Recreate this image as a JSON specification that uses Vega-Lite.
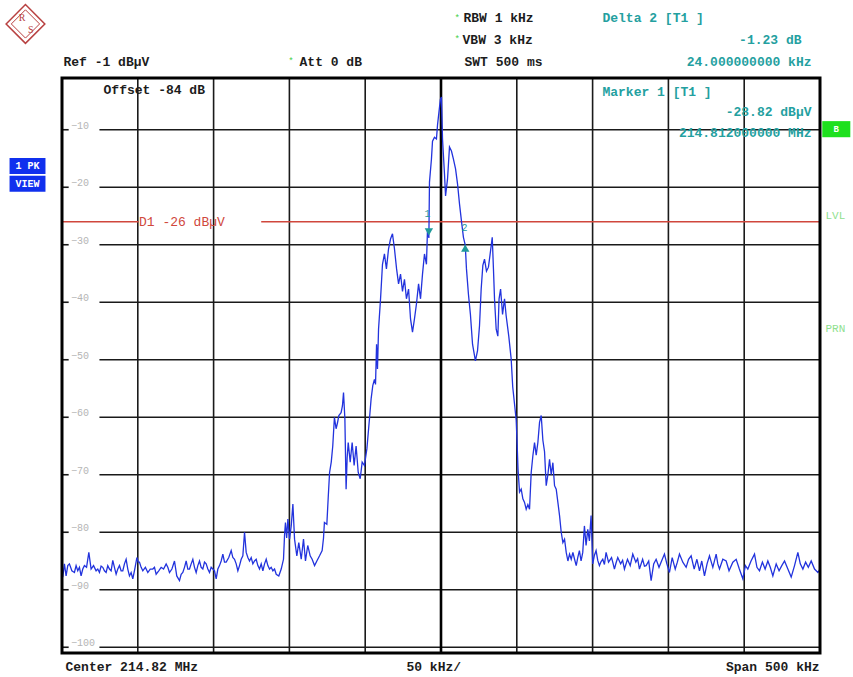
{
  "$schema": "https://vega.github.io/schema/vega-lite/v6.json",
  "width": 758,
  "height": 575,
  "autosize": {"type": "none"},
  "padding": {"left": 62, "top": 78, "right": 33, "bottom": 24},
  "background": "white",
  "config": {"view": {"stroke": null}, "text": {"font": "Liberation Mono"}},
  "layer": [
    {
      "data": {"values": [{"db": -10}, {"db": -20}, {"db": -30}, {"db": -40}, {"db": -50}, {"db": -60}, {"db": -70}, {"db": -80}, {"db": -90}, {"db": -100}]},
      "mark": {"type": "rule", "color": "#1a1a1a", "strokeWidth": 1.6},
      "encoding": {
        "x": {"datum": -225.3, "type": "quantitative", "scale": {"domain": [-250, 250], "nice": false, "zero": false}, "axis": null},
        "x2": {"datum": 250},
        "y": {"field": "db", "type": "quantitative", "scale": {"domain": [-101, -1], "nice": false, "zero": false}, "axis": null}
      }
    },
    {
      "data": {"values": [{"db": -10}, {"db": -20}, {"db": -30}, {"db": -40}, {"db": -50}, {"db": -60}, {"db": -70}, {"db": -80}, {"db": -90}, {"db": -100}]},
      "mark": {"type": "rule", "color": "#1a1a1a", "strokeWidth": 1.6},
      "encoding": {
        "x": {"datum": -250, "type": "quantitative"},
        "x2": {"datum": -245.6},
        "y": {"field": "db", "type": "quantitative"}
      }
    },
    {
      "data": {"values": [{"db": -10}, {"db": -20}, {"db": -30}, {"db": -40}, {"db": -50}, {"db": -60}, {"db": -70}, {"db": -80}, {"db": -90}, {"db": -100}]},
      "mark": {"type": "text", "color": "#b5b5b5", "fontSize": 10, "align": "left", "baseline": "bottom", "dy": 1},
      "encoding": {
        "x": {"datum": -244, "type": "quantitative"},
        "y": {"field": "db", "type": "quantitative"},
        "text": {"field": "db", "type": "quantitative", "format": "d"}
      }
    },
    {
      "data": {"values": [{"f": -200}, {"f": -150}, {"f": -100}, {"f": -50}, {"f": 50}, {"f": 100}, {"f": 150}, {"f": 200}]},
      "mark": {"type": "rule", "color": "#1a1a1a", "strokeWidth": 1.6},
      "encoding": {
        "x": {"field": "f", "type": "quantitative"},
        "y": {"datum": -101, "type": "quantitative"},
        "y2": {"datum": -1}
      }
    },
    {
      "data": {"values": [{"f": 0}]},
      "mark": {"type": "rule", "color": "#000000", "strokeWidth": 2.6},
      "encoding": {
        "x": {"field": "f", "type": "quantitative"},
        "y": {"datum": -101, "type": "quantitative"},
        "y2": {"datum": -1}
      }
    },
    {
      "data": {"values": [{"f1": -250, "f2": -199.4}, {"f1": -118.6, "f2": 250}]},
      "mark": {"type": "rule", "color": "#d0473c", "strokeWidth": 1.4},
      "encoding": {
        "x": {"field": "f1", "type": "quantitative"},
        "x2": {"field": "f2"},
        "y": {"datum": -26, "type": "quantitative"}
      }
    },
    {
      "data": {"values": [{"t": "D1 -26 dBµV", "f": -199.2, "db": -26}]},
      "mark": {"type": "text", "color": "#d0473c", "fontSize": 13, "align": "left", "baseline": "middle"},
      "encoding": {
        "x": {"field": "f", "type": "quantitative"},
        "y": {"field": "db", "type": "quantitative"},
        "text": {"field": "t"}
      }
    },
    {
      "data": {"values": [
        {"f": -250.0, "db": -86.4}, {"f": -249.5, "db": -87.8}, {"f": -248.4, "db": -85.5}, {"f": -247.3, "db": -87.6}, {"f": -246.2, "db": -85.8},
        {"f": -245.1, "db": -85.5}, {"f": -243.5, "db": -86.7}, {"f": -241.8, "db": -87.0}, {"f": -240.7, "db": -85.8}, {"f": -239.6, "db": -86.7},
        {"f": -238.5, "db": -86.1}, {"f": -237.4, "db": -87.6}, {"f": -236.3, "db": -86.4}, {"f": -235.2, "db": -85.8}, {"f": -233.8, "db": -86.1},
        {"f": -232.3, "db": -83.5}, {"f": -230.8, "db": -86.4}, {"f": -229.2, "db": -85.8}, {"f": -227.5, "db": -86.7}, {"f": -226.4, "db": -86.4},
        {"f": -225.3, "db": -87.0}, {"f": -224.2, "db": -85.9}, {"f": -223.1, "db": -86.1}, {"f": -222.0, "db": -86.7}, {"f": -220.9, "db": -87.0},
        {"f": -219.8, "db": -85.8}, {"f": -218.7, "db": -86.4}, {"f": -217.6, "db": -86.7}, {"f": -216.5, "db": -84.9}, {"f": -215.4, "db": -86.1},
        {"f": -214.3, "db": -87.3}, {"f": -213.2, "db": -86.4}, {"f": -212.1, "db": -85.8}, {"f": -211.0, "db": -86.7}, {"f": -209.9, "db": -86.7},
        {"f": -208.8, "db": -85.5}, {"f": -207.7, "db": -84.7}, {"f": -206.6, "db": -86.4}, {"f": -205.5, "db": -87.6}, {"f": -204.4, "db": -87.0},
        {"f": -203.3, "db": -88.1}, {"f": -202.0, "db": -86.4}, {"f": -200.6, "db": -84.4}, {"f": -199.7, "db": -85.2}, {"f": -198.9, "db": -85.2},
        {"f": -197.8, "db": -86.1}, {"f": -196.7, "db": -86.7}, {"f": -195.0, "db": -86.1}, {"f": -193.4, "db": -87.0}, {"f": -191.8, "db": -86.4},
        {"f": -190.1, "db": -86.4}, {"f": -189.0, "db": -86.1}, {"f": -187.9, "db": -87.3}, {"f": -186.2, "db": -86.7}, {"f": -184.6, "db": -86.1},
        {"f": -183.0, "db": -86.4}, {"f": -181.3, "db": -85.5}, {"f": -180.2, "db": -86.1}, {"f": -179.1, "db": -87.0}, {"f": -177.5, "db": -86.4},
        {"f": -175.8, "db": -85.0}, {"f": -174.3, "db": -87.6}, {"f": -172.5, "db": -88.4}, {"f": -171.4, "db": -87.3}, {"f": -170.3, "db": -87.0},
        {"f": -169.2, "db": -86.1}, {"f": -168.1, "db": -85.0}, {"f": -167.0, "db": -86.4}, {"f": -165.9, "db": -86.4}, {"f": -164.8, "db": -85.5},
        {"f": -163.7, "db": -84.7}, {"f": -162.6, "db": -86.1}, {"f": -161.5, "db": -87.0}, {"f": -160.4, "db": -85.8}, {"f": -159.3, "db": -85.0},
        {"f": -158.2, "db": -86.1}, {"f": -157.1, "db": -86.4}, {"f": -156.0, "db": -85.2}, {"f": -154.9, "db": -85.5}, {"f": -153.8, "db": -86.4},
        {"f": -152.7, "db": -87.0}, {"f": -151.6, "db": -86.1}, {"f": -150.5, "db": -86.4}, {"f": -149.4, "db": -86.7}, {"f": -148.3, "db": -88.1},
        {"f": -147.2, "db": -86.4}, {"f": -146.1, "db": -85.8}, {"f": -145.0, "db": -85.0}, {"f": -143.9, "db": -83.8}, {"f": -142.8, "db": -85.2},
        {"f": -141.7, "db": -85.2}, {"f": -140.0, "db": -84.4}, {"f": -138.4, "db": -83.2}, {"f": -137.3, "db": -84.4}, {"f": -136.2, "db": -84.7},
        {"f": -135.1, "db": -85.5}, {"f": -134.0, "db": -86.7}, {"f": -132.9, "db": -85.8}, {"f": -131.8, "db": -84.7}, {"f": -130.7, "db": -84.1},
        {"f": -129.6, "db": -80.0}, {"f": -128.5, "db": -83.5}, {"f": -127.4, "db": -84.4}, {"f": -126.3, "db": -85.0}, {"f": -125.2, "db": -84.4},
        {"f": -124.1, "db": -85.5}, {"f": -123.0, "db": -85.0}, {"f": -121.9, "db": -84.7}, {"f": -120.8, "db": -85.8}, {"f": -119.7, "db": -86.4},
        {"f": -118.6, "db": -85.5}, {"f": -117.5, "db": -86.7}, {"f": -116.4, "db": -85.5}, {"f": -115.3, "db": -84.7}, {"f": -114.2, "db": -85.8},
        {"f": -113.1, "db": -86.4}, {"f": -112.0, "db": -86.1}, {"f": -110.9, "db": -86.7}, {"f": -109.8, "db": -86.4}, {"f": -108.7, "db": -87.3},
        {"f": -107.0, "db": -87.6}, {"f": -105.4, "db": -86.4}, {"f": -103.9, "db": -84.7}, {"f": -103.2, "db": -80.5}, {"f": -102.6, "db": -78.3},
        {"f": -101.8, "db": -81.0}, {"f": -101.0, "db": -77.7}, {"f": -99.9, "db": -81.2}, {"f": -98.8, "db": -78.9}, {"f": -97.7, "db": -75.1},
        {"f": -96.6, "db": -81.2}, {"f": -95.1, "db": -84.1}, {"f": -93.8, "db": -81.8}, {"f": -92.2, "db": -84.7}, {"f": -90.7, "db": -81.2},
        {"f": -89.4, "db": -85.0}, {"f": -87.9, "db": -82.3}, {"f": -86.3, "db": -84.1}, {"f": -85.0, "db": -84.7}, {"f": -83.4, "db": -85.8},
        {"f": -81.9, "db": -85.0}, {"f": -80.1, "db": -84.1}, {"f": -78.4, "db": -83.2}, {"f": -77.5, "db": -81.0}, {"f": -76.9, "db": -78.3},
        {"f": -75.3, "db": -78.6}, {"f": -74.4, "db": -74.0}, {"f": -73.5, "db": -69.6}, {"f": -72.4, "db": -67.8}, {"f": -71.4, "db": -65.0},
        {"f": -70.3, "db": -60.0}, {"f": -69.2, "db": -62.0}, {"f": -68.3, "db": -61.0}, {"f": -67.4, "db": -59.7}, {"f": -65.9, "db": -59.2},
        {"f": -65.0, "db": -58.0}, {"f": -64.3, "db": -55.7}, {"f": -63.4, "db": -60.3}, {"f": -62.6, "db": -72.5}, {"f": -61.9, "db": -67.0},
        {"f": -61.2, "db": -64.4}, {"f": -59.9, "db": -67.8}, {"f": -58.6, "db": -64.4}, {"f": -57.3, "db": -68.4}, {"f": -56.0, "db": -65.0},
        {"f": -54.6, "db": -69.6}, {"f": -53.3, "db": -70.7}, {"f": -52.0, "db": -67.8}, {"f": -50.5, "db": -68.4}, {"f": -48.9, "db": -65.5},
        {"f": -47.2, "db": -60.3}, {"f": -46.1, "db": -56.8}, {"f": -45.0, "db": -54.5}, {"f": -43.9, "db": -53.4}, {"f": -43.2, "db": -54.3},
        {"f": -42.5, "db": -47.3}, {"f": -41.9, "db": -51.6}, {"f": -41.2, "db": -44.7}, {"f": -39.9, "db": -39.5}, {"f": -38.6, "db": -33.4},
        {"f": -37.3, "db": -31.6}, {"f": -36.0, "db": -34.2}, {"f": -34.6, "db": -30.7}, {"f": -33.3, "db": -29.0}, {"f": -32.0, "db": -28.1},
        {"f": -30.7, "db": -30.7}, {"f": -29.3, "db": -34.2}, {"f": -28.0, "db": -36.8}, {"f": -26.7, "db": -35.1}, {"f": -25.4, "db": -38.1},
        {"f": -24.1, "db": -36.0}, {"f": -22.8, "db": -39.4}, {"f": -21.4, "db": -37.7}, {"f": -20.1, "db": -42.9}, {"f": -18.8, "db": -45.2},
        {"f": -17.5, "db": -42.9}, {"f": -16.2, "db": -40.3}, {"f": -14.8, "db": -36.8}, {"f": -13.5, "db": -39.4}, {"f": -12.2, "db": -35.1},
        {"f": -10.9, "db": -31.6}, {"f": -9.6, "db": -33.4}, {"f": -8.9, "db": -27.3}, {"f": -8.0, "db": -28.82}, {"f": -7.6, "db": -19.1},
        {"f": -6.3, "db": -15.1}, {"f": -5.6, "db": -12.0}, {"f": -4.3, "db": -11.3}, {"f": -3.0, "db": -11.6}, {"f": -2.3, "db": -9.2},
        {"f": -1.0, "db": -6.1}, {"f": -0.4, "db": -4.7}, {"f": 0.3, "db": -4.3}, {"f": 1.0, "db": -11.6}, {"f": 2.3, "db": -17.7},
        {"f": 3.0, "db": -21.5}, {"f": 4.3, "db": -18.6}, {"f": 5.6, "db": -13.0}, {"f": 6.9, "db": -13.7}, {"f": 8.2, "db": -15.1},
        {"f": 9.6, "db": -16.8}, {"f": 10.9, "db": -19.4}, {"f": 12.2, "db": -22.9}, {"f": 13.5, "db": -25.9}, {"f": 14.8, "db": -28.7},
        {"f": 16.0, "db": -30.05}, {"f": 16.8, "db": -34.2}, {"f": 18.1, "db": -38.6}, {"f": 19.4, "db": -42.1}, {"f": 20.8, "db": -47.3},
        {"f": 22.7, "db": -50.2}, {"f": 24.1, "db": -48.4}, {"f": 25.4, "db": -44.1}, {"f": 26.5, "db": -37.7}, {"f": 27.6, "db": -33.6},
        {"f": 28.7, "db": -32.5}, {"f": 30.0, "db": -34.6}, {"f": 31.3, "db": -33.9}, {"f": 33.1, "db": -30.2}, {"f": 33.8, "db": -28.7},
        {"f": 34.6, "db": -34.2}, {"f": 35.3, "db": -39.4}, {"f": 36.4, "db": -44.7}, {"f": 37.5, "db": -45.9}, {"f": 38.3, "db": -39.4},
        {"f": 39.3, "db": -37.7}, {"f": 40.6, "db": -42.1}, {"f": 41.9, "db": -39.4}, {"f": 43.0, "db": -42.4}, {"f": 44.7, "db": -45.9},
        {"f": 46.3, "db": -49.9}, {"f": 47.3, "db": -54.7}, {"f": 48.5, "db": -57.7}, {"f": 49.6, "db": -60.5}, {"f": 50.2, "db": -64.5},
        {"f": 50.8, "db": -69.0}, {"f": 51.8, "db": -73.0}, {"f": 52.9, "db": -72.5}, {"f": 54.0, "db": -74.2}, {"f": 55.1, "db": -74.8},
        {"f": 56.2, "db": -76.0}, {"f": 57.3, "db": -75.2}, {"f": 58.4, "db": -76.0}, {"f": 59.5, "db": -69.6}, {"f": 60.6, "db": -66.7},
        {"f": 61.7, "db": -64.4}, {"f": 62.8, "db": -66.6}, {"f": 63.9, "db": -64.4}, {"f": 65.0, "db": -60.9}, {"f": 66.1, "db": -59.7},
        {"f": 67.2, "db": -64.0}, {"f": 68.3, "db": -66.0}, {"f": 69.4, "db": -71.9}, {"f": 70.5, "db": -70.0}, {"f": 71.6, "db": -67.3},
        {"f": 72.7, "db": -70.0}, {"f": 73.8, "db": -67.9}, {"f": 74.9, "db": -71.9}, {"f": 76.0, "db": -72.5}, {"f": 77.1, "db": -74.8},
        {"f": 78.2, "db": -77.1}, {"f": 79.3, "db": -80.0}, {"f": 80.4, "db": -81.8}, {"f": 81.5, "db": -81.2}, {"f": 82.6, "db": -83.5},
        {"f": 83.7, "db": -85.0}, {"f": 84.8, "db": -83.8}, {"f": 85.9, "db": -84.7}, {"f": 87.0, "db": -83.5}, {"f": 88.1, "db": -84.7},
        {"f": 89.2, "db": -85.8}, {"f": 90.2, "db": -84.4}, {"f": 91.3, "db": -83.2}, {"f": 92.4, "db": -85.0}, {"f": 93.5, "db": -83.5},
        {"f": 94.6, "db": -78.9}, {"f": 95.7, "db": -82.3}, {"f": 96.8, "db": -79.5}, {"f": 97.9, "db": -81.5}, {"f": 99.0, "db": -77.1},
        {"f": 100.1, "db": -85.5}, {"f": 101.2, "db": -84.0}, {"f": 102.3, "db": -83.2}, {"f": 103.4, "db": -84.9}, {"f": 104.5, "db": -85.8},
        {"f": 105.6, "db": -85.1}, {"f": 106.7, "db": -84.7}, {"f": 107.8, "db": -85.6}, {"f": 108.9, "db": -83.5}, {"f": 110.5, "db": -85.2},
        {"f": 112.5, "db": -84.4}, {"f": 113.5, "db": -85.4}, {"f": 114.4, "db": -86.4}, {"f": 115.5, "db": -85.3}, {"f": 116.6, "db": -84.4},
        {"f": 118.5, "db": -85.5}, {"f": 119.8, "db": -84.9}, {"f": 121.0, "db": -86.4}, {"f": 123.0, "db": -84.7}, {"f": 124.8, "db": -85.8},
        {"f": 126.5, "db": -83.8}, {"f": 128.5, "db": -85.2}, {"f": 129.7, "db": -84.6}, {"f": 130.9, "db": -86.4}, {"f": 133.0, "db": -84.7},
        {"f": 134.2, "db": -85.9}, {"f": 135.3, "db": -85.8}, {"f": 137.0, "db": -85.0}, {"f": 138.6, "db": -88.4}, {"f": 140.3, "db": -85.5},
        {"f": 141.9, "db": -84.7}, {"f": 143.8, "db": -86.1}, {"f": 145.5, "db": -85.0}, {"f": 147.4, "db": -83.8}, {"f": 149.0, "db": -85.5},
        {"f": 150.7, "db": -87.0}, {"f": 152.5, "db": -84.4}, {"f": 154.5, "db": -86.4}, {"f": 155.9, "db": -85.2}, {"f": 157.3, "db": -83.8},
        {"f": 159.5, "db": -85.2}, {"f": 161.7, "db": -86.1}, {"f": 163.3, "db": -84.7}, {"f": 165.0, "db": -84.1}, {"f": 167.0, "db": -86.4},
        {"f": 168.8, "db": -84.7}, {"f": 170.5, "db": -86.7}, {"f": 172.0, "db": -85.0}, {"f": 173.8, "db": -87.6}, {"f": 175.5, "db": -85.5},
        {"f": 177.1, "db": -84.1}, {"f": 179.3, "db": -86.1}, {"f": 181.5, "db": -83.8}, {"f": 182.6, "db": -85.5}, {"f": 183.7, "db": -86.4},
        {"f": 185.9, "db": -84.7}, {"f": 188.1, "db": -85.0}, {"f": 190.0, "db": -86.7}, {"f": 192.5, "db": -85.2}, {"f": 194.7, "db": -84.7},
        {"f": 196.8, "db": -86.4}, {"f": 199.1, "db": -88.1}, {"f": 200.8, "db": -85.8}, {"f": 202.4, "db": -86.4}, {"f": 204.5, "db": -85.0},
        {"f": 206.8, "db": -83.8}, {"f": 208.4, "db": -86.1}, {"f": 210.1, "db": -86.7}, {"f": 212.0, "db": -85.2}, {"f": 213.8, "db": -86.4},
        {"f": 215.6, "db": -85.0}, {"f": 217.2, "db": -86.1}, {"f": 218.9, "db": -87.6}, {"f": 221.1, "db": -85.5}, {"f": 223.0, "db": -86.7},
        {"f": 224.8, "db": -85.8}, {"f": 226.6, "db": -85.0}, {"f": 228.8, "db": -86.4}, {"f": 231.0, "db": -87.8}, {"f": 233.2, "db": -85.8},
        {"f": 235.4, "db": -83.5}, {"f": 237.0, "db": -85.5}, {"f": 238.7, "db": -86.4}, {"f": 240.5, "db": -85.2}, {"f": 242.3, "db": -86.1},
        {"f": 244.2, "db": -85.0}, {"f": 246.4, "db": -86.4}, {"f": 248.6, "db": -87.0}, {"f": 250.0, "db": -86.4}
      ]},
      "mark": {"type": "line", "color": "#2233dd", "strokeWidth": 1.3, "interpolate": "linear"},
      "encoding": {
        "x": {"field": "f", "type": "quantitative"},
        "y": {"field": "db", "type": "quantitative"}
      }
    },
    {
      "data": {"values": [{"f": -8, "db": -28.82}]},
      "mark": {"type": "point", "shape": "triangle-down", "filled": true, "color": "#1f9a9a", "size": 70, "yOffset": -6, "opacity": 1},
      "encoding": {"x": {"field": "f", "type": "quantitative"}, "y": {"field": "db", "type": "quantitative"}}
    },
    {
      "data": {"values": [{"f": 16, "db": -30.05}]},
      "mark": {"type": "point", "shape": "triangle-up", "filled": true, "color": "#1f9a9a", "size": 70, "yOffset": 3, "opacity": 1},
      "encoding": {"x": {"field": "f", "type": "quantitative"}, "y": {"field": "db", "type": "quantitative"}}
    },
    {
      "data": {"values": [{"t": "1", "f": -8.9, "db": -24.7}, {"t": "2", "f": 15.5, "db": -27.0}]},
      "mark": {"type": "text", "color": "#1f9a9a", "fontSize": 10, "align": "center", "baseline": "middle"},
      "encoding": {"x": {"field": "f", "type": "quantitative"}, "y": {"field": "db", "type": "quantitative"}, "text": {"field": "t"}}
    },
    {
      "data": {"values": [{"a": 1}]},
      "mark": {"type": "rect", "fill": null, "fillOpacity": 0, "stroke": "#000000", "strokeWidth": 3},
      "encoding": {
        "x": {"datum": -250, "type": "quantitative"},
        "x2": {"datum": 250},
        "y": {"datum": -101, "type": "quantitative"},
        "y2": {"datum": -1}
      }
    },
    {
      "data": {"values": [
        {"t": "Ref -1 dBµV", "f": -249.0, "db": 1.8},
        {"t": "Att  0 dB", "f": -93.3, "db": 1.8},
        {"t": "RBW 1 kHz", "f": 14.8, "db": 9.4},
        {"t": "VBW 3 kHz", "f": 14.2, "db": 5.6},
        {"t": "SWT 500 ms", "f": 15.5, "db": 1.8},
        {"t": "Offset -84 dB", "f": -222.6, "db": -3.1},
        {"t": "Center 214.82 MHz", "f": -247.7, "db": -103.4},
        {"t": "50 kHz/", "f": -22.8, "db": -103.4}
      ]},
      "mark": {"type": "text", "color": "#1c1c1c", "fontSize": 13, "fontWeight": "bold", "align": "left", "baseline": "middle"},
      "encoding": {"x": {"field": "f", "type": "quantitative"}, "y": {"field": "db", "type": "quantitative"}, "text": {"field": "t"}}
    },
    {
      "data": {"values": [{"t": "Span 500 kHz", "f": 249.7, "db": -103.4}]},
      "mark": {"type": "text", "color": "#1c1c1c", "fontSize": 13, "fontWeight": "bold", "align": "right", "baseline": "middle"},
      "encoding": {"x": {"field": "f", "type": "quantitative"}, "y": {"field": "db", "type": "quantitative"}, "text": {"field": "t"}}
    },
    {
      "data": {"values": [{"t": "*", "f": -100.8, "db": 1.9}, {"t": "*", "f": 8.9, "db": 9.5}, {"t": "*", "f": 8.9, "db": 5.7}]},
      "mark": {"type": "text", "color": "#3fcf3f", "fontSize": 9, "align": "left", "baseline": "middle"},
      "encoding": {"x": {"field": "f", "type": "quantitative"}, "y": {"field": "db", "type": "quantitative"}, "text": {"field": "t"}}
    },
    {
      "data": {"values": [{"t": "Delta 2 [T1 ]", "f": 106.5, "db": 9.4}, {"t": "Marker 1 [T1 ]", "f": 106.5, "db": -3.4}]},
      "mark": {"type": "text", "color": "#24a0a0", "fontSize": 13, "fontWeight": "bold", "align": "left", "baseline": "middle"},
      "encoding": {"x": {"field": "f", "type": "quantitative"}, "y": {"field": "db", "type": "quantitative"}, "text": {"field": "t"}}
    },
    {
      "data": {"values": [
        {"t": "-1.23 dB", "f": 237.8, "db": 5.6},
        {"t": "24.000000000 kHz", "f": 244.4, "db": 1.8},
        {"t": "-28.82 dBµV", "f": 244.4, "db": -6.9},
        {"t": "214.812000000 MHz", "f": 244.4, "db": -10.6}
      ]},
      "mark": {"type": "text", "color": "#24a0a0", "fontSize": 13, "fontWeight": "bold", "align": "right", "baseline": "middle"},
      "encoding": {"x": {"field": "f", "type": "quantitative"}, "y": {"field": "db", "type": "quantitative"}, "text": {"field": "t"}}
    },
    {
      "data": {"values": [{"t": "LVL", "f": 253.6, "db": -25.0}, {"t": "PRN", "f": 253.6, "db": -44.65}]},
      "mark": {"type": "text", "color": "#8fdf8f", "fontSize": 11, "align": "left", "baseline": "middle"},
      "encoding": {"x": {"field": "f", "type": "quantitative"}, "y": {"field": "db", "type": "quantitative"}, "text": {"field": "t"}}
    },
    {
      "data": {"values": [{"f1": 251.5, "f2": 270.0, "d1": -8.5, "d2": -11.3}]},
      "mark": {"type": "rect", "color": "#1ee01e"},
      "encoding": {"x": {"field": "f1", "type": "quantitative"}, "x2": {"field": "f2"}, "y": {"field": "d1", "type": "quantitative"}, "y2": {"field": "d2"}}
    },
    {
      "data": {"values": [{"t": "B", "f": 260.7, "db": -9.9}]},
      "mark": {"type": "text", "color": "#ffffff", "fontSize": 9, "fontWeight": "bold", "align": "center", "baseline": "middle"},
      "encoding": {"x": {"field": "f", "type": "quantitative"}, "y": {"field": "db", "type": "quantitative"}, "text": {"field": "t"}}
    },
    {
      "data": {"values": [{"f1": -284.6, "f2": -260.9, "d1": -14.9, "d2": -17.7}, {"f1": -284.6, "f2": -260.9, "d1": -18.0, "d2": -20.8}]},
      "mark": {"type": "rect", "color": "#1030ee"},
      "encoding": {"x": {"field": "f1", "type": "quantitative"}, "x2": {"field": "f2"}, "y": {"field": "d1", "type": "quantitative"}, "y2": {"field": "d2"}}
    },
    {
      "data": {"values": [{"t": "1 PK", "f": -272.8, "db": -16.3}, {"t": "VIEW", "f": -272.8, "db": -19.4}]},
      "mark": {"type": "text", "color": "#ffffff", "fontSize": 10, "fontWeight": "bold", "align": "center", "baseline": "middle"},
      "encoding": {"x": {"field": "f", "type": "quantitative"}, "y": {"field": "db", "type": "quantitative"}, "text": {"field": "t"}}
    },
    {
      "data": {"values": [{"f": -274.1, "db": 8.4}]},
      "mark": {"type": "point", "shape": "diamond", "size": 1500, "filled": false, "stroke": "#b84040", "strokeWidth": 1.5, "opacity": 1},
      "encoding": {"x": {"field": "f", "type": "quantitative"}, "y": {"field": "db", "type": "quantitative"}}
    },
    {
      "data": {"values": [{"f": -274.1, "db": 8.4}]},
      "mark": {"type": "point", "shape": "diamond", "size": 800, "filled": false, "stroke": "#b84040", "strokeWidth": 1, "opacity": 1},
      "encoding": {"x": {"field": "f", "type": "quantitative"}, "y": {"field": "db", "type": "quantitative"}}
    },
    {
      "data": {"values": [{"t": "R", "f": -276.3, "db": 9.5}, {"t": "S", "f": -270.6, "db": 7.3}]},
      "mark": {"type": "text", "color": "#b84040", "fontSize": 10, "font": "Liberation Serif", "align": "center", "baseline": "middle"},
      "encoding": {"x": {"field": "f", "type": "quantitative"}, "y": {"field": "db", "type": "quantitative"}, "text": {"field": "t"}}
    }
  ]
}
